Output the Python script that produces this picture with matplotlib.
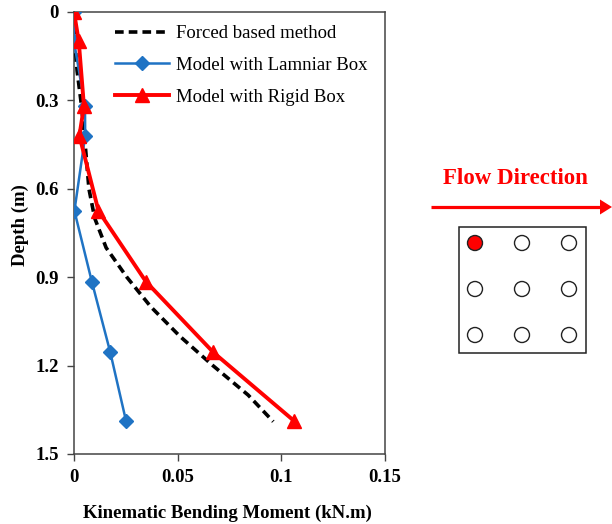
import matplotlib
matplotlib.use("Agg")
import matplotlib.pyplot as plt
from matplotlib.patches import Circle, Rectangle, Polygon

plt.rcParams['font.family'] = ['Liberation Serif', 'DejaVu Serif']

# ---- data ----
force_depth = [0.0, 0.1, 0.2, 0.3, 0.4, 0.5, 0.6, 0.7, 0.8, 0.9, 1.0, 1.1, 1.2, 1.3, 1.39]
force_moment = [0.0, 0.0004, 0.0015, 0.0033, 0.0048, 0.0060, 0.0072, 0.0100, 0.0155,
                0.0255, 0.0370, 0.0510, 0.0670, 0.0840, 0.0961]

model_depth = [0.0, 0.1, 0.32, 0.42, 0.675, 0.915, 1.155, 1.388]
laminar_moment = [0.0, 0.0, 0.0053, 0.0054, 0.0002, 0.0086, 0.0175, 0.0251]
rigid_moment = [0.0, 0.0023, 0.0048, 0.0026, 0.0118, 0.0347, 0.0672, 0.1062]

xticks = [0, 0.05, 0.1, 0.15]
xtick_labels = ["0", "0.05", "0.1", "0.15"]
yticks = [0, 0.3, 0.6, 0.9, 1.2, 1.5]
ytick_labels = ["0", "0.3", "0.6", "0.9", "1.2", "1.5"]

series_labels = ["Forced based method", "Model with Lamniar Box", "Model with Rigid Box"]

W, H = 612, 524
fig = plt.figure(figsize=(W / 100, H / 100), dpi=100)

# main axes (pixel box: left 74, right 385, top 12, bottom 454)
ax = fig.add_axes([74 / W, (H - 454) / H, (385 - 74) / W, (454 - 12) / H])

ax.plot(force_moment, force_depth, color='black', lw=2.6, dashes=(2.4, 1.4),
        label=series_labels[0], zorder=3)
ax.plot(laminar_moment, model_depth, color='#1F73C4', lw=1.8, marker='D', ms=7.5,
        label=series_labels[1], zorder=4)
ax.plot(rigid_moment, model_depth, color='#FF0000', lw=2.8, marker='^', ms=10,
        label=series_labels[2], zorder=5)

ax.set_xlim(0, 0.15)
ax.set_ylim(1.5, 0)
ax.set_xticks(xticks)
ax.set_xticklabels(xtick_labels)
ax.set_yticks(yticks)
ax.set_yticklabels(ytick_labels)
for lab in ax.get_xticklabels() + ax.get_yticklabels():
    lab.set_fontweight('bold')
    lab.set_fontsize(13.5)
ax.tick_params(direction='out', length=5, width=1, color='#444444', pad=6)
for sp in ax.spines.values():
    sp.set_color('#444444')
    sp.set_linewidth(1.1)

fig.text(227 / W, 1 - 513 / H, "Kinematic Bending Moment (kN.m)", ha='center', va='center',
         fontsize=13.5, fontweight='bold')
fig.text(20 / W, 1 - 225 / H, "Depth (m)", ha='center', va='center', rotation=90,
         fontsize=13.5, fontweight='bold')

leg = ax.legend(loc='upper left', bbox_to_anchor=(115 / W, 1 - 25 / H),
                bbox_transform=fig.transFigure, frameon=False, fontsize=13.5,
                handlelength=2.9, handletextpad=0.35, labelspacing=0.78, borderpad=0,
                borderaxespad=0)

# ---- flow-direction diagram (decoration, in figure pixels) ----
d = fig.add_axes([0, 0, 1, 1], zorder=-1)
d.set_xlim(0, W)
d.set_ylim(H, 0)
d.axis('off')
d.text(515, 179, "Flow Direction", color='#FF0000', fontsize=16.5, fontweight='bold',
       ha='center', va='center')
d.plot([431, 601], [207, 207], color='#FF0000', lw=2.3, solid_capstyle='butt')
d.add_patch(Polygon([[600, 199.5], [612, 207], [600, 214.5]], closed=True,
                    color='#FF0000', lw=0))
d.add_patch(Rectangle((459, 227), 127, 126, fill=False, ec='#222222', lw=1.1))
cx = [475, 522, 569]
cy = [243, 289, 335]
for j, y in enumerate(cy):
    for i, x in enumerate(cx):
        fc = '#FF0000' if (i == 0 and j == 0) else 'white'
        d.add_patch(Circle((x, y), 7.5, fc=fc, ec='#222222', lw=1.0))

fig.savefig("out.png", dpi=100)
